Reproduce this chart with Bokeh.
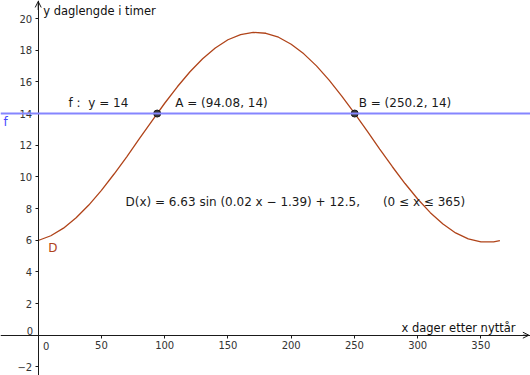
from bokeh.plotting import figure
from bokeh.models import FixedTicker, Span, Arrow, OpenHead
from bokeh.core.properties import value
from bokeh.embed import file_html
from bokeh.resources import INLINE

# ---- data ----
D_x = [0, 10, 20, 30, 40, 50, 60, 70, 80, 90, 100, 110, 120, 130, 140, 150, 160, 170,
       180, 190, 200, 210, 220, 230, 240, 250, 260, 270, 280, 290, 300, 310, 320, 330,
       340, 350, 360, 365]
D_y = [5.98, 6.28, 6.76, 7.42, 8.22, 9.15, 10.18, 11.27, 12.41, 13.54, 14.65, 15.69,
       16.64, 17.46, 18.14, 18.66, 18.99, 19.13, 19.07, 18.82, 18.38, 17.77, 17.01,
       16.11, 15.10, 14.02, 12.90, 11.76, 10.64, 9.58, 8.60, 7.74, 7.02, 6.46, 6.08,
       5.89, 5.90, 5.97]
f_y = 14
point_names = ["A", "B"]
point_x = [94.08, 250.2]
point_y = [14, 14]
x_ticks = [50, 100, 150, 200, 250, 300, 350]
y_ticks = [-2, 2, 4, 6, 8, 10, 12, 14, 16, 18, 20]
x_title = "x dager etter nyttår"
y_title = "y daglengde i timer"
NB = "\u00a0"
func_text = "D(x) = 6.63 sin (0.02 x − 1.39) + 12.5," + NB * 6 + "(0 ≤ x ≤ 365)"
f_text = "f :" + NB + " y = 14"

xmin, xmax = -29.8, 389.2
ymin, ymax = -2.546, 21.14

FONT = "DejaVu Sans"
AXC = "#1a1a1a"
CURVE = "#b0441a"
BLUE_LINE = "#8585ff"

p = figure(width=530, height=375, x_range=(xmin, xmax), y_range=(ymin, ymax),
           output_backend="svg", toolbar_location=None, min_border=0,
           outline_line_color=None, background_fill_color="white",
           styles={"position": "absolute", "left": "0px", "top": "0px"})
p.grid.visible = False

for ax in (p.xaxis, p.yaxis):
    ax.fixed_location = 0
    ax.axis_line_color = AXC
    ax.axis_line_width = 1
    ax.major_tick_line_color = AXC
    ax.major_tick_in = 0
    ax.major_tick_out = 3
    ax.minor_tick_line_color = None
    ax.major_label_text_font = FONT
    ax.major_label_text_font_size = "10px"
    ax.major_label_text_color = "#333333"
p.xaxis.ticker = FixedTicker(ticks=x_ticks)
p.yaxis.ticker = FixedTicker(ticks=y_ticks)
p.xaxis.major_label_standoff = 3
p.yaxis.major_label_standoff = 3

# axis arrows
p.add_layout(Arrow(end=OpenHead(size=6, line_color=AXC, line_width=1),
                   x_start=xmax - 6, y_start=0, x_end=xmax - 1.3, y_end=0,
                   line_color=AXC, line_width=1))
p.add_layout(Arrow(end=OpenHead(size=6, line_color=AXC, line_width=1),
                   x_start=0, y_start=ymax - 0.6, x_end=0, y_end=ymax - 0.06,
                   line_color=AXC, line_width=1))

# zero labels
p.text(x=[0], y=[0], text=["0"], x_offset=-5, y_offset=-4, text_align="right",
       text_baseline="middle", text_font=value(FONT), text_font_size="10px",
       text_color="#333333")
p.text(x=[0], y=[0], text=["0"], x_offset=8, y_offset=11, text_align="center",
       text_baseline="middle", text_font=value(FONT), text_font_size="10px",
       text_color="#333333")

# axis titles
p.text(x=[0], y=[ymax], text=[y_title], x_offset=5, y_offset=10, text_align="left",
       text_baseline="middle", text_font=value(FONT), text_font_size="11.5px",
       text_color="#111111")
p.text(x=[xmax], y=[0], text=[x_title], x_offset=-15, y_offset=-7, text_align="right",
       text_baseline="middle", text_font=value(FONT), text_font_size="11.5px",
       text_color="#111111")

# line f
p.add_layout(Span(location=f_y, dimension="width", line_color=BLUE_LINE, line_width=2))
p.text(x=[xmin], y=[f_y], text=["f"], x_offset=3, y_offset=8, text_align="left",
       text_baseline="middle", text_font=value(FONT), text_font_size="12px",
       text_color="#4646ff")
p.text(x=[24], y=[f_y], text=[f_text], y_offset=-11, text_align="left",
       text_baseline="middle", text_font=value(FONT), text_font_size="12px",
       text_color="#1a1a1a")

# curve D
p.line(D_x, D_y, line_color=CURVE, line_width=1.3)
p.text(x=[D_x[0]], y=[D_y[0]], text=["D"], x_offset=10, y_offset=7, text_align="left",
       text_baseline="middle", text_font=value(FONT), text_font_size="12px",
       text_color=CURVE)

# points
p.scatter(point_x, point_y, size=7, fill_color="#3a3a3a", line_color="#1a1a1a",
          line_width=1)
lbls = [f"{n} = ({x:g}, {y:g})" for n, x, y in zip(point_names, point_x, point_y)]
p.text(x=point_x, y=point_y, text=lbls, x_offset=[18, 4], y_offset=-11,
       text_align="left", text_baseline="middle", text_font=value(FONT),
       text_font_size="12px", text_color="#1a1a1a")

# function text
p.text(x=[69], y=[8.4], text=[func_text], text_align="left", text_baseline="middle",
       text_font=value(FONT), text_font_size="12px", text_color="#1a1a1a")

open("out.html", "w").write(file_html(p, INLINE))
